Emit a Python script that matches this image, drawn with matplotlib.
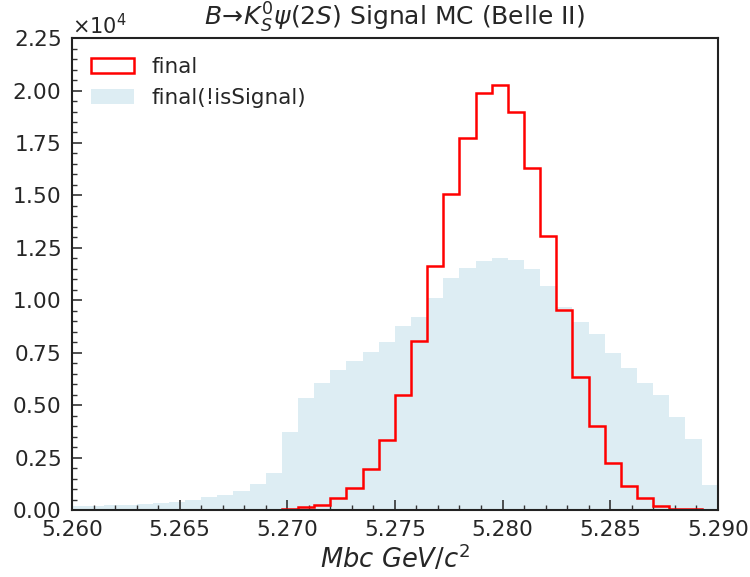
import numpy as np
import matplotlib
matplotlib.use("Agg")
import matplotlib.pyplot as plt
from matplotlib.ticker import MultipleLocator, ScalarFormatter, FormatStrFormatter

# 40 bins from 5.260 to 5.290 GeV/c^2
x_min, x_max, n_bins = 5.260, 5.290, 40
edges = np.linspace(x_min, x_max, n_bins + 1)
centers = 0.5 * (edges[:-1] + edges[1:])

final_counts = [0, 15, 15, 15, 15, 0, 15, 15, 20, 20,
                20, 20, 25, 50, 130, 250, 590, 1060, 1940, 3330,
                5480, 8060, 11630, 15080, 17750, 19900, 20250, 19000, 16290, 13060,
                9560, 6350, 4000, 2220, 1140, 560, 190, 60, 30, 0]

not_signal_counts = [190, 200, 220, 240, 300, 350, 400, 480, 620, 730,
                     920, 1220, 1750, 3700, 5320, 6080, 6670, 7100, 7540, 8020,
                     8780, 9210, 10110, 11080, 11560, 11870, 12030, 11940, 11510, 10670,
                     9680, 8970, 8400, 7490, 6780, 6080, 5490, 4440, 3380, 1210]

labels = ["final", "final(!isSignal)"]
title = r"$B\!\rightarrow\! K_S^0\psi(2S)$ Signal MC (Belle II)"
xlabel = r"$Mbc\ GeV/c^2$"

txt = "#262626"
plt.rcParams["font.family"] = ["DejaVu Sans"]
plt.rcParams["mathtext.fontset"] = "dejavusans"

fig = plt.figure(figsize=(7.5, 5.77), dpi=100)
ax = fig.add_axes([0.096, 0.116, 0.861, 0.818])

ax.hist(centers, bins=edges, weights=not_signal_counts, histtype="stepfilled",
        color="#ddedf3", label=labels[1], zorder=1)
ax.hist(centers, bins=edges, weights=final_counts, histtype="step",
        color="#ff0000", linewidth=1.8, label=labels[0], zorder=2)

ax.set_xlim(x_min, x_max)
ax.set_ylim(0, 22500)

ax.xaxis.set_major_locator(MultipleLocator(0.005))
ax.xaxis.set_minor_locator(MultipleLocator(0.001))
ax.xaxis.set_major_formatter(FormatStrFormatter("%.3f"))
ax.yaxis.set_major_locator(MultipleLocator(2500))
ax.yaxis.set_minor_locator(MultipleLocator(500))
fmt = ScalarFormatter(useMathText=True)
fmt.set_powerlimits((0, 0))
ax.yaxis.set_major_formatter(fmt)
ax.yaxis.get_offset_text().set_fontsize(15)
ax.yaxis.get_offset_text().set_color(txt)

ax.tick_params(axis="x", which="major", pad=7)
ax.tick_params(axis="y", which="major", pad=8)
ax.tick_params(axis="both", which="major", direction="in", length=7.5, width=1.2,
               labelsize=15.5, labelcolor=txt, color="#333333")
ax.tick_params(axis="both", which="minor", direction="in", length=3.5, width=1.0,
               color="#333333")
for s in ax.spines.values():
    s.set_linewidth(1.5)
    s.set_color("#222222")

ax.set_title(title, fontsize=18, color=txt, pad=9)
ax.set_xlabel(xlabel, fontsize=18.5, color=txt, labelpad=3)

h, l = ax.get_legend_handles_labels()
order = [l.index(labels[0]), l.index(labels[1])]
ax.legend([h[i] for i in order], [l[i] for i in order], loc="upper left",
          frameon=False, fontsize=15.5, labelcolor=txt, handlelength=2.0,
          borderaxespad=0.5)

fig.savefig("out.png", dpi=100)
